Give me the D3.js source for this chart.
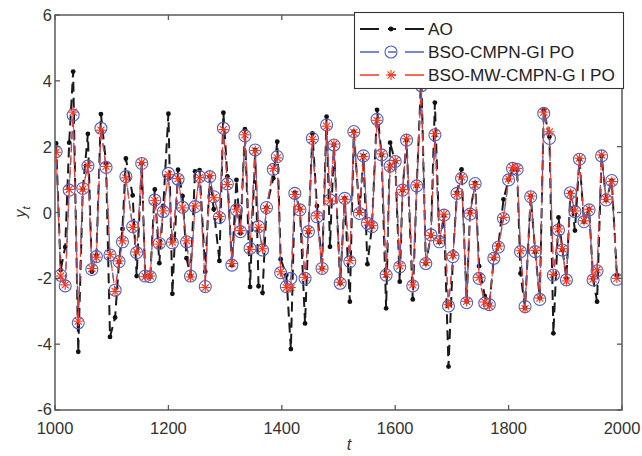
<!DOCTYPE html>
<html><head><meta charset="utf-8">
<script src="https://cdn.jsdelivr.net/npm/d3@7"></script>
<style>body{margin:0;background:#fff}svg{display:block}</style>
</head><body><svg id="c" width="642" height="456"></svg>
<script>
const tValues = [
1002,1010,1018,1025,1032,1041,1049,1058,1065,1073,
1081,1090,1097,1106,1113,1119,1125,1137,1144,1153,
1159,1168,1176,1184,1191,1200,1207,1217,1225,1232,
1239,1247,1255,1265,1273,1280,1290,1297,1304,1312,
1320,1327,1335,1344,1353,1359,1366,1373,1385,1392,
1398,1408,1416,1423,1432,1441,1447,1454,1462,1471,
1479,1485,1492,1503,1511,1520,1527,1537,1544,1551,
1559,1568,1576,1584,1591,1600,1608,1613,1620,1631,
1638,1646,1654,1663,1670,1678,1686,1694,1702,1709,
1717,1726,1732,1741,1748,1758,1766,1774,1782,1791,
1800,1807,1815,1821,1829,1839,1847,1855,1862,1872,
1879,1888,1895,1902,1909,1917,1925,1933,1942,1949,
1956,1964,1972,1982,1991];
const aoValues = [
2.10,-1.75,-1.05,2.12,4.28,-4.23,0.70,2.39,-1.80,-1.30,
2.99,1.50,-3.78,-3.19,-1.50,-0.50,1.64,0.52,-1.93,1.50,
-1.93,-1.95,0.70,-1.54,0.20,3.00,-2.47,1.30,0.50,-1.39,
-1.93,1.25,1.29,-1.80,1.10,0.10,-1.47,3.03,1.10,-1.60,
0.99,-0.63,2.53,-2.26,1.90,-2.24,-2.44,0.15,1.04,2.15,
-1.42,-1.90,-4.15,0.60,0.10,-3.37,-0.60,2.40,0.20,-1.70,
2.91,-1.04,2.05,-2.15,0.43,-2.71,2.46,0.00,1.72,-1.57,
-0.43,3.12,1.75,-2.91,2.12,1.55,-2.10,0.68,2.20,-2.64,
0.81,4.20,-1.55,-0.70,3.34,-0.90,-0.10,-4.68,-1.30,0.60,
1.31,-2.70,0.00,0.90,-1.63,-2.54,-2.80,-1.40,-1.00,0.40,
1.00,1.30,1.30,-1.85,-2.90,0.50,-1.20,-2.60,3.10,2.30,
-3.67,-0.15,-1.14,-2.00,0.60,-0.55,1.62,-0.28,0.10,-2.00,
-2.71,1.72,0.38,0.97,-1.90];
const cmpnValues = [
1.85,-1.91,-2.23,0.68,2.96,-3.35,0.73,1.41,-1.73,-1.34,
2.56,1.37,-1.29,-2.36,-1.49,-0.89,1.09,-0.43,-1.22,1.49,
-1.93,-1.95,0.38,-0.94,0.03,1.19,-0.92,1.01,0.16,-0.89,
-1.93,0.18,1.09,-2.25,1.09,0.48,-0.15,2.56,0.87,-1.60,
0.08,-0.58,2.33,-1.09,1.90,-0.43,-1.14,0.15,1.31,1.70,
-1.83,-2.25,-2.00,0.58,0.08,-2.00,-0.58,2.25,-0.13,-1.70,
2.66,0.38,2.05,-2.15,0.43,-1.49,2.46,-0.03,1.72,-0.33,
-0.43,2.83,1.75,-1.90,1.41,1.55,-1.65,0.68,2.20,-2.23,
0.81,3.85,-1.55,-0.68,2.36,-0.89,-0.08,-2.84,-1.34,0.58,
1.04,-2.74,-0.05,0.88,-2.00,-2.75,-2.80,-1.39,-1.05,-0.18,
0.99,1.34,1.31,-1.19,-2.86,0.48,-1.19,-2.64,3.01,2.25,
-1.90,-0.53,-1.14,-2.05,0.60,0.03,1.62,-0.28,0.08,-2.05,
-1.77,1.72,0.38,0.97,-2.03];
const mwValues = [
1.83,-1.93,-2.20,0.70,3.05,-3.30,0.71,1.43,-1.70,-1.36,
2.50,1.40,-1.27,-2.40,-1.47,-0.86,1.05,-0.45,-1.20,1.52,
-1.95,-1.93,0.36,-0.96,0.05,1.15,-0.90,1.03,0.14,-0.86,
-1.96,0.20,1.06,-2.28,1.12,0.45,-0.12,2.52,0.85,-1.55,
0.10,-0.55,2.36,-1.12,1.88,-0.45,-1.10,0.12,1.34,1.66,
-1.80,-2.28,-2.28,0.55,0.10,-1.97,-0.55,2.22,-0.10,-1.72,
2.62,0.35,2.08,-2.12,0.40,-1.46,2.43,0.00,1.70,-0.30,
-0.40,2.80,1.78,-1.88,1.38,1.58,-1.62,0.70,2.24,-2.20,
0.84,3.90,-1.52,-0.70,2.40,-0.86,-0.05,-2.80,-1.30,0.55,
1.08,-2.70,-0.02,0.85,-1.97,-2.72,-2.84,-1.36,-1.02,-0.15,
1.02,1.36,1.34,-1.16,-2.92,0.50,-1.15,-2.60,3.05,2.45,
-1.88,-0.50,-1.10,-2.08,0.58,0.05,1.65,-0.25,0.10,-2.02,
-1.74,1.75,0.40,0.94,-2.00];
const xTicks = [1000,1200,1400,1600,1800,2000];
const yTicks = [-6,-4,-2,0,2,4,6];
const seriesNames = ["AO","BSO-CMPN-GI PO","BSO-MW-CMPN-G I PO"];

const svg = d3.select("#c");
const L=55,R=622,T=15,B=410;
const x = d3.scaleLinear().domain([1000,2000]).range([L,R]);
const y = d3.scaleLinear().domain([-6,6]).range([B,T]);
const axisColor="#595959", font="'Liberation Sans', Arial, sans-serif";
const blue="#4f5fc4", red="#f5371f";

svg.append("defs").append("clipPath").attr("id","pc").append("rect")
  .attr("x",L).attr("y",T).attr("width",R-L).attr("height",B-T);

const mk = vals => tValues.map((t,i)=>({t,v:vals[i]}));
const line = d3.line().x(d=>x(d.t)).y(d=>y(d.v));
const g = svg.append("g").attr("clip-path","url(#pc)");

// AO
g.append("path").datum(mk(aoValues)).attr("d",line).attr("fill","none")
  .attr("stroke","#1a1a1a").attr("stroke-width",2).attr("stroke-dasharray","10,6");
g.selectAll(".ao").data(mk(aoValues)).join("circle").attr("cx",d=>x(d.t)).attr("cy",d=>y(d.v))
  .attr("r",2.4).attr("fill","#111");
// CMPN
g.append("path").datum(mk(cmpnValues)).attr("d",line).attr("fill","none")
  .attr("stroke",blue).attr("stroke-width",1.3).attr("stroke-dasharray","8,5").attr("stroke-dashoffset",4);
g.selectAll(".cm").data(mk(cmpnValues)).join("circle").attr("cx",d=>x(d.t)).attr("cy",d=>y(d.v))
  .attr("r",6).attr("fill","none").attr("stroke",blue).attr("stroke-width",1.1);
// MW
g.append("path").datum(mk(mwValues)).attr("d",line).attr("fill","none")
  .attr("stroke",red).attr("stroke-width",1.2).attr("stroke-dasharray","8,4").attr("stroke-dashoffset",8).attr("opacity",0.9);
const star = (sel,r)=>{
  [0,45,90,135].forEach(a=>{
    const rad=a*Math.PI/180, dx=r*Math.cos(rad), dy=r*Math.sin(rad);
    sel.append("line").attr("x1",-dx).attr("y1",-dy).attr("x2",dx).attr("y2",dy)
      .attr("stroke",red).attr("stroke-width",1.1);
  });
};
g.selectAll(".mw").data(mk(mwValues)).join("g")
  .attr("transform",d=>`translate(${x(d.t)},${y(d.v)})`).each(function(){star(d3.select(this),5);});

// axes box
const ax = svg.append("g");
ax.append("rect").attr("x",L).attr("y",T).attr("width",R-L).attr("height",B-T)
  .attr("fill","none").attr("stroke",axisColor).attr("stroke-width",1.5);
const tickLen=5;
xTicks.forEach(v=>{
  ax.append("line").attr("x1",x(v)).attr("x2",x(v)).attr("y1",B).attr("y2",B-tickLen).attr("stroke",axisColor).attr("stroke-width",1.3);
  ax.append("line").attr("x1",x(v)).attr("x2",x(v)).attr("y1",T).attr("y2",T+tickLen).attr("stroke",axisColor).attr("stroke-width",1.3);
  ax.append("text").attr("x",x(v)).attr("y",B+24).attr("text-anchor","middle")
    .attr("font-family",font).attr("font-size",16.5).attr("fill","#333").text(v);
});
yTicks.forEach(v=>{
  ax.append("line").attr("x1",L).attr("x2",L+tickLen).attr("y1",y(v)).attr("y2",y(v)).attr("stroke",axisColor).attr("stroke-width",1.3);
  ax.append("line").attr("x1",R).attr("x2",R-tickLen).attr("y1",y(v)).attr("y2",y(v)).attr("stroke",axisColor).attr("stroke-width",1.3);
  ax.append("text").attr("x",L-3).attr("y",y(v)+(v===-6?4.5:6)).attr("text-anchor","end")
    .attr("font-family",font).attr("font-size",16.5).attr("fill","#333").text(v);
});
// axis labels
const yl = svg.append("text").attr("transform","translate(26,212) rotate(-90)").attr("text-anchor","middle")
  .attr("font-family",font).attr("font-style","italic").attr("font-size",16.5).attr("fill","#333");
yl.append("tspan").text("y");
yl.append("tspan").attr("font-size",11).attr("dy",4).text("t");
svg.append("text").attr("x",349).attr("y",450).attr("text-anchor","middle")
  .attr("font-family",font).attr("font-style","italic").attr("font-size",16.5).attr("fill","#333").text("t");

// legend
const lg = svg.append("g");
lg.append("rect").attr("x",354.5).attr("y",12.5).attr("width",269).attr("height",76)
  .attr("fill","#fff").attr("stroke","#333").attr("stroke-width",1.1);
const rows=[29,52,75];
const cols=["#1a1a1a",blue,red];
rows.forEach((ry,i)=>{
  const c=cols[i];
  lg.append("line").attr("x1",360).attr("x2",424).attr("y1",ry).attr("y2",ry)
    .attr("stroke",c).attr("stroke-width",i==0?1.8:1.3).attr("stroke-dasharray","19,9,8,9,19");
  if(i==0) lg.append("circle").attr("cx",391).attr("cy",ry).attr("r",2.4).attr("fill","#111");
  if(i==1) lg.append("circle").attr("cx",391).attr("cy",ry).attr("r",6).attr("fill","none").attr("stroke",blue).attr("stroke-width",1.1);
  if(i==2) star(lg.append("g").attr("transform",`translate(391,${ry})`),5);
  lg.append("text").attr("x",428).attr("y",ry+6).attr("font-family",font).attr("font-size",17.2)
    .attr("fill","#222").text(seriesNames[i]);
});
</script></body></html>
